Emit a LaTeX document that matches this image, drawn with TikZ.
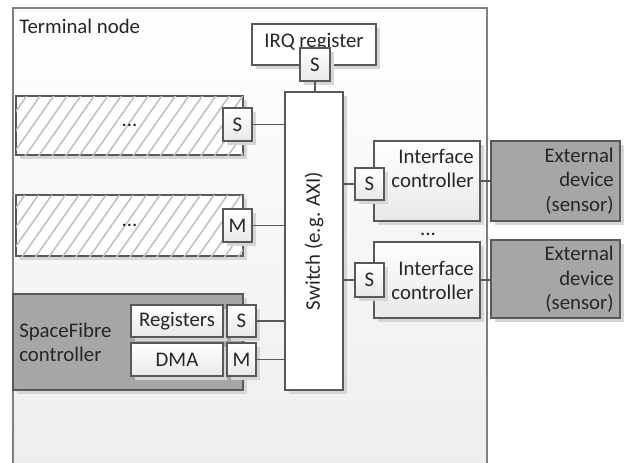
\documentclass[tikz,border=0pt]{standalone}
\usepackage{fontspec}
\setmainfont{Carlito}
\usetikzlibrary{shadows,patterns.meta,calc}

\definecolor{linec}{HTML}{595959}
\definecolor{framec}{HTML}{7F7F7F}
\definecolor{darkfill}{HTML}{A6A6A6}
\definecolor{txtc}{HTML}{262626}
\definecolor{shadowc}{HTML}{D6D6D6}
\definecolor{hatchc}{HTML}{BDBDBD}

\tikzset{
  sz/.style n args={2}{minimum width=#1*0.75pt, minimum height=#2*0.75pt},
  shad/.style={drop shadow={shadow xshift=3pt, shadow yshift=-3pt, fill=shadowc, opacity=1}},
  box/.style={rectangle, draw=linec, line width=0.9pt, inner sep=0pt, text=txtc, shad},
  lightbox/.style={box, top color=white, bottom color=black!9},
  whitebox/.style={box, fill=white},
  darkbox/.style={box, fill=darkfill},
  hatchbox/.style={box, fill=white,
    postaction={pattern={Lines[angle=55, distance=8.3pt, line width=1.1pt]}, pattern color=hatchc}},
  port/.style={lightbox},
  conn/.style={draw=linec, line width=0.9pt},
  label/.style={text=txtc, inner sep=0pt},
  every node/.style={font=\fontsize{15.6}{18.4}\selectfont},
}

\begin{document}
\begin{tikzpicture}[x=0.75pt, y=-0.75pt]
\useasboundingbox (0,0) rectangle (624,462);
\clip (0,0) rectangle (624,462);
\fill[white] (0,0) rectangle (624,462);

% terminal node frame, open towards the bottom
\draw[draw=framec, line width=1pt, top color=white, bottom color=black!7] (13,8) rectangle (487,490);
\node[label, anchor=west] (title) at (19,26.5) {Terminal node};

% IRQ register with its slave port
\node[whitebox, sz={124}{41}] (irq) at (314,44.5) {};
\node[label] (irqtext) at (314,42) {IRQ register};
\node[port, sz={30}{33}] (irqS) at (315,64.5) {S};

% switch
\node[whitebox, sz={58}{298}] (switch) at (314,241) {};
\node[label, rotate=90] (switchtext) at (switch.center) {Switch (e.g. AXI)};

% generic peripherals
\node[hatchbox, sz={227}{59}] (hatchA) at (129.5,125.5) {};
\node[label] (dotsA) at (129.5,125.5) {...};
\node[port, sz={29}{33}] (hatchAS) at (237.5,124.5) {S};

\node[hatchbox, sz={227}{61}] (hatchB) at (129.5,225.5) {};
\node[label] (dotsB) at (129.5,225.5) {...};
\node[port, sz={29}{33}] (hatchBM) at (237.5,225.5) {M};

% SpaceFibre controller
\node[darkbox, sz={230}{96}] (sfc) at (128,342) {};
\node[label, anchor=west, align=left] (sfctext) at (19,342.5) {SpaceFibre\\controller};
\node[lightbox, sz={92}{32}] (regs) at (177,321) {Registers};
\node[port, sz={29}{32}] (regsS) at (241.5,321) {S};
\node[lightbox, sz={92}{33}] (dma) at (177,359.5) {DMA};
\node[port, sz={29}{33}] (dmaM) at (241.5,359.5) {M};

% interface controllers and external devices
\node[lightbox, sz={106}{80}] (ifA) at (427,181) {};
\node[label, anchor=east, align=right] (ifAtext) at (474,168.5) {Interface\\controller};
\node[port, sz={29}{32}] (ifAS) at (369.5,184) {S};
\node[darkbox, sz={129}{80}] (extA) at (555.5,181) {};
\node[label, anchor=east, align=right] (extAtext) at (614,181) {External\\device\\(sensor)};

\node[label] (ifdots) at (428,234) {...};

\node[lightbox, sz={106}{76}] (ifB) at (427,280) {};
\node[label, anchor=east, align=right] (ifBtext) at (474,280.5) {Interface\\controller};
\node[port, sz={29}{34}] (ifBS) at (369.5,280) {S};
\node[darkbox, sz={129}{78}] (extB) at (555.5,279) {};
\node[label, anchor=east, align=right] (extBtext) at (614,279.5) {External\\device\\(sensor)};

% bus connections
\draw[conn] (irqS.south) -- (irqS.south |- switch.north);
\draw[conn] (hatchAS.east) -- (hatchAS.east -| switch.west);
\draw[conn] (hatchBM.east) -- (hatchBM.east -| switch.west);
\draw[conn] (regsS.east) -- (regsS.east -| switch.west);
\draw[conn] (dmaM.east) -- (dmaM.east -| switch.west);
\draw[conn] (ifAS.west) -- (ifAS.west -| switch.east);
\draw[conn] (ifBS.west) -- (ifBS.west -| switch.east);
\draw[conn] (ifA.east) -- (ifA.east -| extA.west);
\draw[conn] (ifB.east) -- (ifB.east -| extB.west);
\end{tikzpicture}
\end{document}
